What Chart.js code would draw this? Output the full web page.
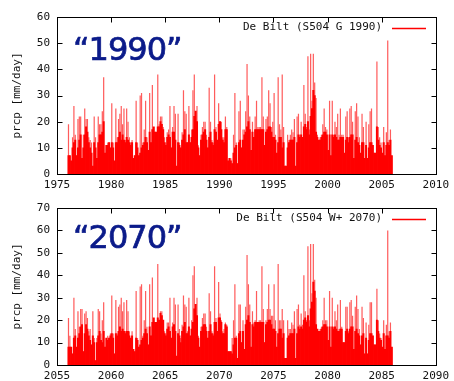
<!DOCTYPE html>
<html>
<head>
<meta charset="utf-8">
<script src="https://cdn.jsdelivr.net/npm/chart.js@4.4.0/dist/chart.umd.min.js"></script>
<style>
  html, body { margin: 0; padding: 0; background: #fff; }
  #wrap { position: relative; width: 454px; height: 381px; overflow: hidden; }
  canvas { position: absolute; left: 0; }
  .tag {
    position: absolute; left: 73px;
    font: 32px "DejaVu Sans", sans-serif; color: #0b1b8a; line-height: 1;
    letter-spacing: -1px; white-space: nowrap;
    -webkit-text-stroke: 0.7px #0b1b8a;
  }
</style>
</head>
<body>
<div id="wrap">
  <canvas id="top" width="454" height="190" style="top:0"></canvas>
  <canvas id="bottom" width="454" height="191" style="top:190px"></canvas>
  <div class="tag" style="top:33px">“1990”</div>
  <div class="tag" style="top:221px">“2070”</div>
</div>
<script>
// Daily precipitation at De Bilt, read off the picture as 8 values per year:
// "peak" is the top of the light spikes, "base" the top of the solid red fill.
const yearsTop = [1976, 1977, 1978, 1979, 1980, 1981, 1982, 1983, 1984, 1985,
  1986, 1987, 1988, 1989, 1990, 1991, 1992, 1993, 1994, 1995,
  1996, 1997, 1998, 1999, 2000, 2001, 2002, 2003, 2004, 2005]

const peakTop = [
  [19, 7, 5, 14, 26, 15, 7, 21],
  [22, 22, 6, 15, 25, 21, 21, 14],
  [13, 12, 3, 22, 14, 6, 22, 19],
  [19, 24, 37, 8, 11, 12, 12, 10],
  [27, 12, 5, 25, 14, 21, 23, 26],
  [19, 25, 13, 25, 20, 14, 12, 13],
  [6, 7, 28, 12, 7, 30, 31, 12],
  [17, 28, 14, 9, 31, 12, 34, 18],
  [16, 16, 38, 19, 22, 22, 18, 14],
  [12, 16, 17, 26, 10, 18, 26, 23],
  [3, 23, 12, 10, 16, 32, 24, 23],
  [12, 26, 12, 17, 32, 38, 24, 26],
  [11, 7, 15, 18, 20, 20, 15, 10],
  [33, 20, 13, 12, 38, 18, 13, 27],
  [20, 20, 14, 14, 22, 18, 5, 6],
  [6, 4, 15, 31, 12, 4, 24, 28],
  [10, 17, 17, 24, 42, 30, 22, 9],
  [20, 14, 22, 28, 18, 18, 18, 37],
  [22, 11, 21, 22, 32, 27, 18, 20],
  [31, 15, 8, 37, 19, 17, 38, 18],
  [3, 3, 15, 13, 15, 17, 16, 21],
  [3, 22, 23, 15, 20, 14, 34, 23],
  [18, 45, 17, 46, 28, 46, 35, 29],
  [15, 13, 14, 15, 19, 25, 18, 17],
  [9, 28, 7, 28, 15, 20, 18, 23],
  [15, 25, 15, 15, 8, 22, 24, 14],
  [25, 26, 20, 6, 24, 27, 22, 14],
  [8, 23, 18, 6, 20, 6, 19, 24],
  [25, 11, 8, 8, 43, 18, 14, 12],
  [8, 18, 7, 16, 51, 13, 17, 7]
]

const baseTop = [
  [7, 7, 5, 10, 12, 13, 7, 10],
  [13, 15, 6, 10, 15, 18, 16, 12],
  [10, 8, 3, 12, 10, 6, 12, 15],
  [15, 16, 20, 8, 11, 11, 12, 10],
  [12, 10, 5, 12, 12, 14, 16, 13],
  [15, 13, 12, 14, 13, 12, 11, 12],
  [6, 7, 12, 10, 7, 8, 10, 11],
  [12, 14, 12, 9, 16, 12, 17, 18],
  [16, 16, 18, 18, 20, 19, 17, 12],
  [11, 14, 15, 14, 10, 16, 16, 13],
  [3, 12, 11, 10, 13, 15, 17, 12],
  [12, 15, 12, 14, 17, 22, 24, 20],
  [10, 7, 13, 15, 16, 17, 13, 10],
  [14, 16, 12, 11, 17, 16, 13, 19],
  [20, 17, 13, 12, 17, 17, 5, 6],
  [5, 4, 8, 10, 11, 4, 12, 13],
  [10, 13, 15, 16, 18, 20, 17, 9],
  [16, 14, 17, 17, 17, 17, 17, 17],
  [17, 11, 16, 17, 18, 18, 16, 14],
  [14, 13, 8, 12, 14, 14, 10, 12],
  [3, 3, 10, 12, 13, 13, 13, 14],
  [3, 12, 15, 14, 15, 14, 18, 19],
  [17, 20, 15, 22, 25, 32, 30, 16],
  [14, 13, 13, 14, 15, 16, 16, 15],
  [9, 15, 7, 15, 14, 15, 14, 13],
  [13, 14, 14, 14, 8, 13, 14, 12],
  [14, 15, 15, 6, 13, 14, 12, 11],
  [8, 12, 12, 6, 11, 6, 10, 12],
  [12, 11, 8, 8, 18, 13, 11, 10],
  [8, 12, 7, 11, 12, 11, 13, 7]
]

const yearsBottom = [2056, 2057, 2058, 2059, 2060, 2061, 2062, 2063, 2064, 2065,
  2066, 2067, 2068, 2069, 2070, 2071, 2072, 2073, 2074, 2075,
  2076, 2077, 2078, 2079, 2080, 2081, 2082, 2083, 2084, 2085]

const peakBottom = [
  [21, 13, 8, 5, 30, 16, 8, 24],
  [17, 25, 25, 6, 23, 24, 21, 15],
  [16, 9, 24, 12, 2, 12, 25, 24],
  [14, 20, 28, 8, 12, 13, 12, 14],
  [31, 14, 5, 29, 14, 26, 27, 30],
  [24, 28, 15, 29, 24, 15, 12, 15],
  [7, 6, 33, 12, 8, 35, 36, 13],
  [20, 33, 17, 9, 36, 13, 39, 21],
  [19, 19, 45, 20, 24, 24, 20, 15],
  [14, 19, 19, 30, 12, 19, 30, 27],
  [4, 27, 16, 12, 18, 31, 27, 26],
  [15, 30, 13, 20, 40, 44, 27, 30],
  [13, 8, 17, 21, 23, 23, 17, 12],
  [32, 24, 15, 14, 44, 21, 15, 37],
  [23, 20, 15, 16, 19, 18, 6, 6],
  [6, 12, 20, 36, 13, 3, 27, 27],
  [10, 20, 7, 26, 49, 36, 27, 8],
  [24, 19, 20, 33, 19, 20, 20, 44],
  [25, 10, 20, 25, 36, 25, 22, 22],
  [36, 20, 8, 45, 20, 20, 25, 20],
  [3, 3, 20, 16, 16, 19, 18, 24],
  [3, 25, 27, 18, 23, 18, 40, 24],
  [20, 53, 20, 54, 32, 54, 38, 30],
  [16, 15, 16, 17, 20, 30, 20, 20],
  [11, 33, 8, 30, 17, 24, 20, 27],
  [16, 29, 17, 10, 10, 26, 26, 15],
  [28, 29, 22, 7, 26, 31, 25, 16],
  [9, 26, 21, 5, 19, 5, 18, 28],
  [28, 13, 9, 9, 34, 20, 14, 12],
  [8, 20, 7, 18, 60, 15, 19, 8]
]

const baseBottom = [
  [8, 8, 8, 5, 12, 13, 8, 12],
  [14, 17, 18, 6, 14, 18, 16, 13],
  [11, 9, 13, 10, 2, 10, 13, 15],
  [11, 10, 15, 8, 12, 11, 12, 13],
  [14, 12, 5, 14, 13, 15, 17, 15],
  [16, 15, 14, 15, 15, 13, 12, 13],
  [7, 6, 12, 11, 8, 9, 11, 12],
  [14, 16, 14, 9, 17, 13, 19, 21],
  [19, 19, 21, 20, 23, 22, 20, 14],
  [13, 16, 17, 15, 12, 17, 18, 15],
  [4, 14, 13, 10, 15, 17, 19, 14],
  [14, 17, 13, 16, 19, 25, 27, 22],
  [12, 8, 15, 17, 18, 18, 15, 12],
  [15, 18, 14, 13, 19, 19, 15, 21],
  [21, 19, 14, 14, 18, 17, 6, 6],
  [6, 5, 9, 12, 12, 3, 14, 15],
  [10, 15, 7, 18, 20, 22, 19, 8],
  [18, 17, 19, 19, 19, 19, 19, 19],
  [19, 10, 18, 19, 20, 20, 18, 16],
  [16, 15, 8, 14, 16, 16, 12, 14],
  [3, 3, 12, 13, 14, 14, 14, 16],
  [3, 14, 17, 16, 17, 16, 20, 21],
  [19, 22, 17, 25, 28, 37, 33, 18],
  [16, 15, 15, 16, 17, 18, 18, 17],
  [11, 17, 8, 17, 16, 17, 16, 15],
  [15, 16, 16, 10, 10, 15, 16, 14],
  [16, 17, 17, 7, 15, 16, 14, 13],
  [9, 13, 14, 5, 12, 5, 11, 14],
  [14, 13, 9, 9, 20, 15, 12, 11],
  [8, 14, 7, 13, 13, 12, 15, 8]
]

const xTicksTop = [1975, 1980, 1985, 1990, 1995, 2000, 2005, 2010]
const yTicksTop = [0, 10, 20, 30, 40, 50, 60]
const xTicksBottom = [2055, 2060, 2065, 2070, 2075, 2080, 2085, 2090]
const yTicksBottom = [0, 10, 20, 30, 40, 50, 60, 70]

const MONO = '"DejaVu Sans Mono", "Liberation Mono", monospace'

// spread each year's values evenly over that year
function toPoints(years, rows) {
  return rows.flatMap((row, i) => row.map((v, j) => ({ x: years[i] + (j + 0.5) / row.length, y: v })))
}

// gnuplot style frame: inward ticks on all sides, box, key and y label
const framePlugin = {
  id: 'frame',
  beforeDatasetsDraw(chart) {
    const { ctx, chartArea: a, scales: { x, y } } = chart
    const l = Math.round(a.left) + 0.5, r = Math.round(a.right) + 0.5
    const t = Math.round(a.top) + 0.5, b = Math.round(a.bottom) + 0.5
    ctx.save()
    ctx.strokeStyle = '#000'
    ctx.lineWidth = 1
    ctx.beginPath()
    x.ticks.forEach(tk => {
      const px = Math.round(x.getPixelForValue(tk.value)) + 0.5
      ctx.moveTo(px, b); ctx.lineTo(px, b - 5)
      ctx.moveTo(px, t); ctx.lineTo(px, t + 5)
    })
    y.ticks.forEach(tk => {
      const py = Math.round(y.getPixelForValue(tk.value)) + 0.5
      ctx.moveTo(l, py); ctx.lineTo(l + 5, py)
      ctx.moveTo(r, py); ctx.lineTo(r - 5, py)
    })
    ctx.stroke()
    ctx.restore()
  },
  afterDraw(chart, args, opts) {
    const { ctx, chartArea: a } = chart
    const l = Math.round(a.left) + 0.5, r = Math.round(a.right) + 0.5
    const t = Math.round(a.top) + 0.5, b = Math.round(a.bottom) + 0.5
    ctx.save()
    ctx.strokeStyle = '#000'
    ctx.lineWidth = 1
    ctx.strokeRect(l, t, r - l, b - t)

    // key
    ctx.font = '11px ' + MONO
    ctx.fillStyle = '#111'
    ctx.textBaseline = 'middle'
    ctx.textAlign = 'right'
    ctx.fillText(opts.label, 382, t + 10)
    ctx.strokeStyle = '#ff0000'
    ctx.lineWidth = 1.3
    ctx.beginPath()
    ctx.moveTo(392, Math.round(t + 10) + 0.5)
    ctx.lineTo(426, Math.round(t + 10) + 0.5)
    ctx.stroke()

    // y axis title
    ctx.translate(17, (a.top + a.bottom) / 2)
    ctx.rotate(-Math.PI / 2)
    ctx.textAlign = 'center'
    ctx.fillText('prcp [mm/day]', 0, 0)
    ctx.restore()
  }
}

function makeChart(id, years, peak, base, xTicks, yTicks, label, padTop) {
  const canvas = document.getElementById(id)
  return new Chart(canvas, {
    type: 'bar',
    data: {
      datasets: [
        {
          label: 'base',
          data: toPoints(years, base),
          backgroundColor: '#ff0000',
          grouped: false,
          order: 0,
          barPercentage: 1,
          categoryPercentage: 1
        },
        {
          label: 'peak',
          data: toPoints(years, peak),
          backgroundColor: '#ff5c5c',
          grouped: false,
          order: 1,
          barPercentage: 0.9,
          categoryPercentage: 1
        }
      ]
    },
    options: {
      responsive: false,
      animation: false,
      layout: { padding: { left: 0, right: 15, top: padTop, bottom: 0 } },
      plugins: {
        legend: { display: false },
        tooltip: { enabled: false },
        frame: { label }
      },
      scales: {
        x: {
          type: 'linear',
          min: xTicks[0],
          max: xTicks[xTicks.length - 1],
          offset: false,
          grid: { display: false, drawTicks: false },
          border: { display: false },
          ticks: {
            font: { family: MONO, size: 11 },
            color: '#111',
            padding: 5,
            maxRotation: 0,
            callback: v => String(v)
          },
          afterBuildTicks: s => { s.ticks = xTicks.map(v => ({ value: v })) },
          afterFit: s => { s.height = 16 }
        },
        y: {
          min: yTicks[0],
          max: yTicks[yTicks.length - 1],
          grid: { display: false, drawTicks: false },
          border: { display: false },
          ticks: {
            font: { family: MONO, size: 11 },
            color: '#111',
            padding: 7
          },
          afterBuildTicks: s => { s.ticks = yTicks.map(v => ({ value: v })) },
          afterFit: s => { s.width = 57 }
        }
      }
    },
    plugins: [framePlugin]
  })
}

makeChart('top', yearsTop, peakTop, baseTop, xTicksTop, yTicksTop, 'De Bilt (S504 G 1990)', 17)
makeChart('bottom', yearsBottom, peakBottom, baseBottom, xTicksBottom, yTicksBottom, 'De Bilt (S504 W+ 2070)', 18)
</script>
</body>
</html>
